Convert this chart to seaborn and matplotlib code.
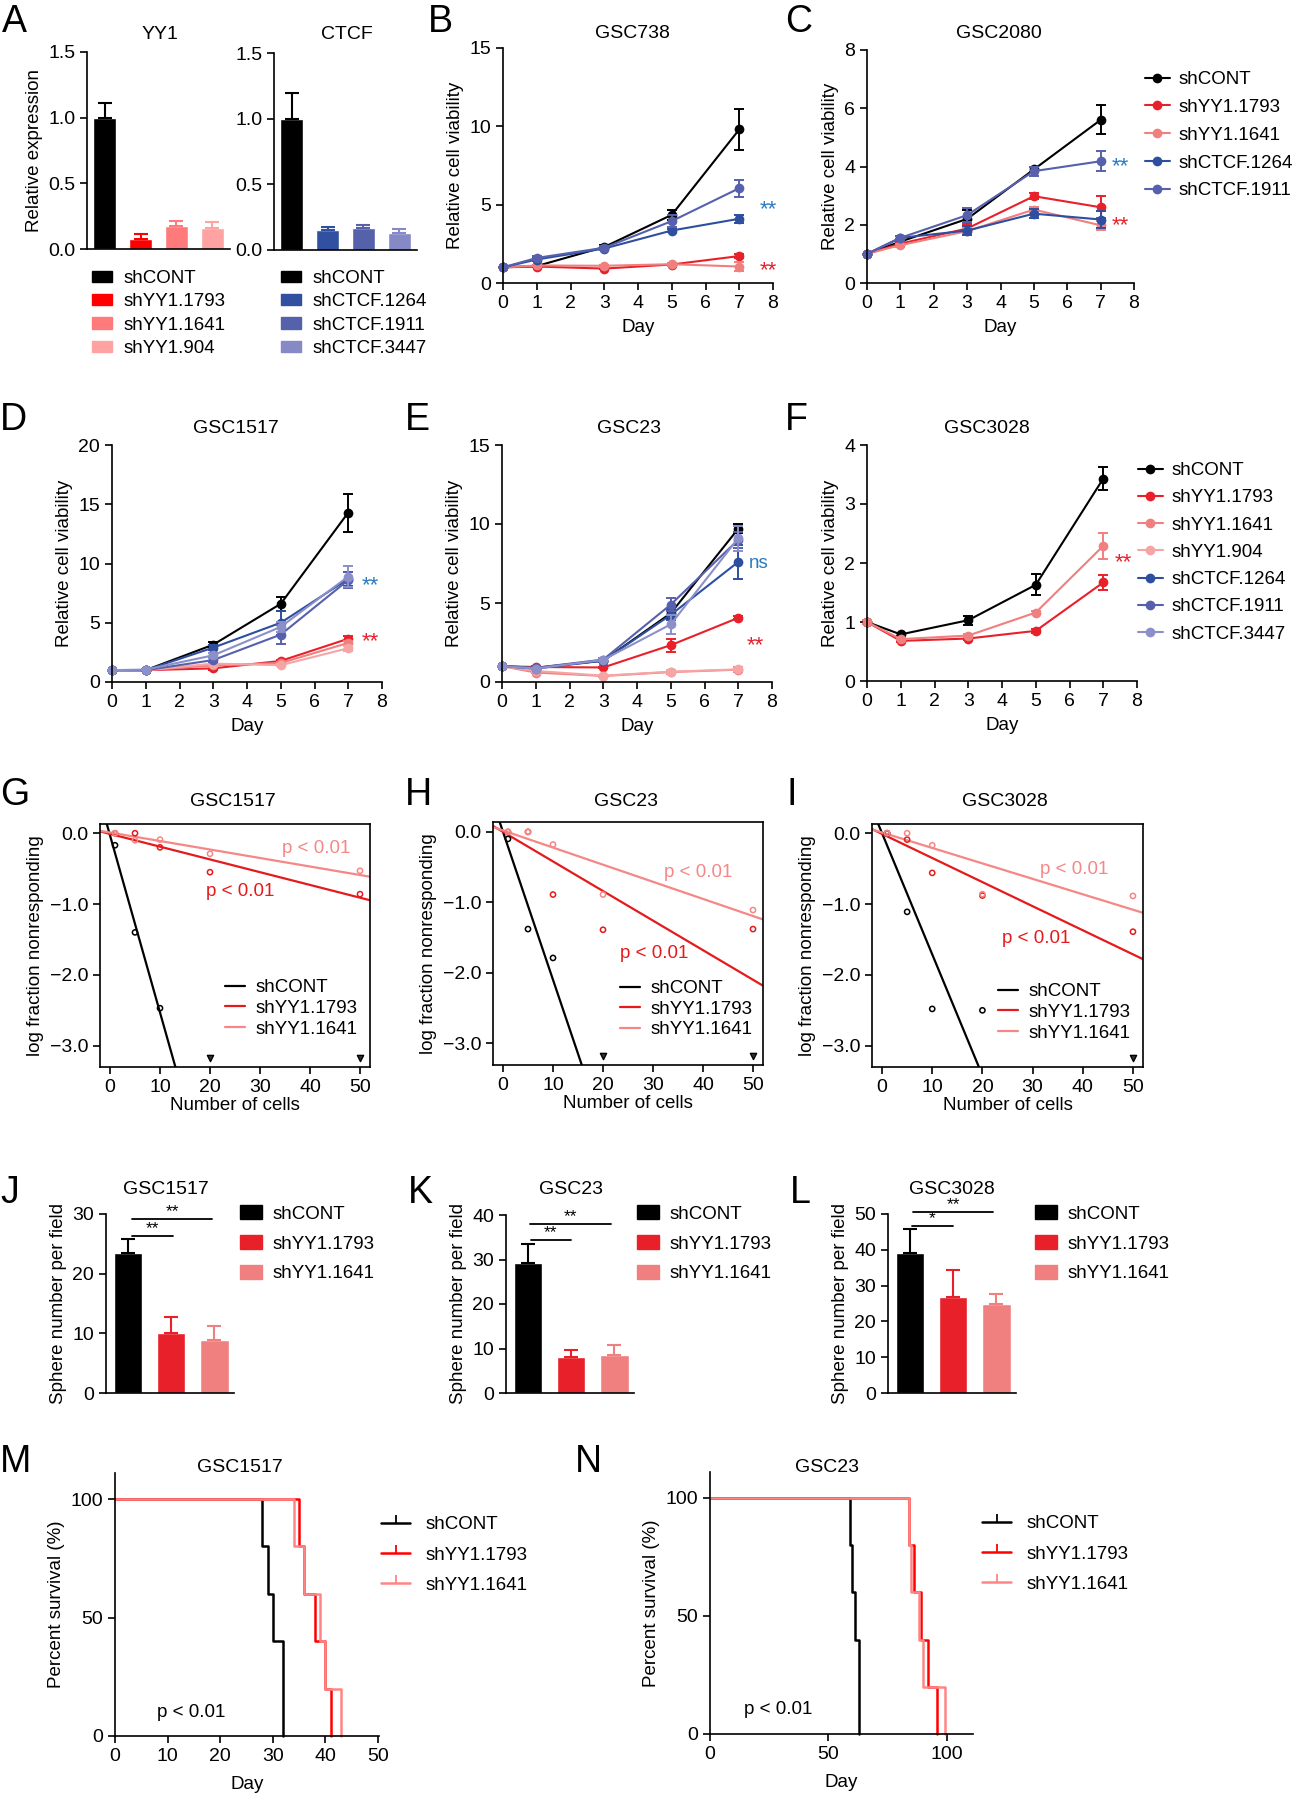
import matplotlib
matplotlib.use('Agg')
import matplotlib.pyplot as plt
import numpy as np
import seaborn as sns
from matplotlib.lines import Line2D
from matplotlib.patches import Patch

# ---------------- data ----------------
yy1_groups = ['shCONT', 'shYY1.1793', 'shYY1.1641', 'shYY1.904']
yy1_expr = [1.0, 0.077, 0.173, 0.158]
yy1_expr_err = [0.114, 0.04, 0.037, 0.048]
ctcf_groups = ['shCONT', 'shCTCF.1264', 'shCTCF.1911', 'shCTCF.3447']
ctcf_expr = [1.0, 0.151, 0.164, 0.131]
ctcf_expr_err = [0.197, 0.021, 0.028, 0.028]

days = [0, 1, 3, 5, 7]

gsc738_mean = {
    'shCONT': [1.0, 1.08, 2.3, 4.35, 9.8],
    'shYY1.1793': [1.0, 1.05, 0.92, 1.18, 1.72],
    'shYY1.1641': [1.0, 1.12, 1.1, 1.2, 1.05],
    'shCTCF.1264': [1.0, 1.5, 2.2, 3.35, 4.1],
    'shCTCF.1911': [1.0, 1.6, 2.25, 3.95, 6.05],
}
gsc738_err = {
    'shCONT': [0, 0.05, 0.15, 0.3, 1.3],
    'shYY1.1793': [0, 0.05, 0.05, 0.1, 0.1],
    'shYY1.1641': [0, 0.05, 0.05, 0.1, 0.3],
    'shCTCF.1264': [0, 0.1, 0.1, 0.1, 0.25],
    'shCTCF.1911': [0, 0.1, 0.1, 0.4, 0.55],
}

gsc2080_mean = {
    'shCONT': [1.0, 1.42, 2.2, 3.9, 5.6],
    'shYY1.1793': [1.0, 1.35, 1.87, 2.98, 2.6],
    'shYY1.1641': [1.0, 1.3, 1.78, 2.52, 1.98],
    'shCTCF.1264': [1.0, 1.55, 1.8, 2.38, 2.18],
    'shCTCF.1911': [1.0, 1.55, 2.33, 3.84, 4.18],
}
gsc2080_err = {
    'shCONT': [0, 0.05, 0.3, 0.1, 0.5],
    'shYY1.1793': [0, 0.05, 0.15, 0.1, 0.38],
    'shYY1.1641': [0, 0.05, 0.1, 0.1, 0.15],
    'shCTCF.1264': [0, 0.05, 0.15, 0.15, 0.3],
    'shCTCF.1911': [0, 0.05, 0.25, 0.15, 0.35],
}

gsc1517_mean = {
    'shCONT': [1.0, 1.0, 3.15, 6.6, 14.3],
    'shYY1.1793': [1.0, 1.0, 1.15, 1.78, 3.65],
    'shYY1.1641': [1.0, 1.0, 1.4, 1.6, 3.3],
    'shYY1.904': [1.0, 1.0, 1.55, 1.42, 2.85],
    'shCTCF.1264': [1.0, 1.0, 2.9, 5.0, 8.7],
    'shCTCF.1911': [1.0, 1.0, 1.85, 4.0, 8.6],
    'shCTCF.3447': [1.0, 1.05, 2.25, 4.65, 8.9],
}
gsc1517_err = {
    'shCONT': [0, 0.05, 0.2, 0.6, 1.6],
    'shYY1.1793': [0, 0.05, 0.1, 0.1, 0.2],
    'shYY1.1641': [0, 0.05, 0.1, 0.1, 0.2],
    'shYY1.904': [0, 0.05, 0.1, 0.1, 0.2],
    'shCTCF.1264': [0, 0.05, 0.2, 1.0, 0.6],
    'shCTCF.1911': [0, 0.05, 0.2, 0.8, 0.7],
    'shCTCF.3447': [0, 0.05, 0.2, 0.4, 0.9],
}

gsc23_mean = {
    'shCONT': [1.0, 0.9, 1.35, 4.35, 9.7],
    'shYY1.1793': [1.0, 0.95, 0.92, 2.33, 4.06],
    'shYY1.1641': [1.0, 0.6, 0.38, 0.63, 0.78],
    'shYY1.904': [1.0, 0.7, 0.4, 0.65, 0.8],
    'shCTCF.1264': [1.0, 0.85, 1.35, 4.25, 7.6],
    'shCTCF.1911': [1.0, 0.9, 1.42, 4.9, 9.0],
    'shCTCF.3447': [1.0, 0.85, 1.4, 3.65, 9.1],
}
gsc23_err = {
    'shCONT': [0, 0.05, 0.1, 0.3, 0.3],
    'shYY1.1793': [0, 0.05, 0.05, 0.4, 0.1],
    'shYY1.1641': [0, 0.05, 0.05, 0.1, 0.15],
    'shYY1.904': [0, 0.05, 0.05, 0.1, 0.1],
    'shCTCF.1264': [0, 0.05, 0.1, 0.35, 1.1],
    'shCTCF.1911': [0, 0.05, 0.1, 0.4, 0.5],
    'shCTCF.3447': [0, 0.05, 0.1, 0.6, 0.8],
}

gsc3028_mean = {
    'shCONT': [1.0, 0.79, 1.03, 1.63, 3.43],
    'shYY1.1793': [1.0, 0.68, 0.72, 0.85, 1.67],
    'shYY1.1641': [1.0, 0.71, 0.77, 1.16, 2.29],
}
gsc3028_err = {
    'shCONT': [0.02, 0.02, 0.08, 0.18, 0.2],
    'shYY1.1793': [0.03, 0.02, 0.02, 0.03, 0.13],
    'shYY1.1641': [0.03, 0.02, 0.02, 0.03, 0.22],
}

lda_groups = ['shCONT', 'shYY1.1793', 'shYY1.1641']
lda_cells = [1, 5, 10, 20, 50]
lda_floor = -3.18
g_lda = {
    'shCONT': [-0.17, -1.40, -2.47, np.nan, np.nan],
    'shYY1.1793': [0.0, 0.0, -0.20, -0.55, -0.86],
    'shYY1.1641': [0.0, -0.10, -0.09, -0.29, -0.53],
}
g_cens = [20, 50]
g_fit = {'shCONT': (-0.03, -0.25), 'shYY1.1793': (-0.01, -0.018), 'shYY1.1641': (0.01, -0.012)}
h_lda = {
    'shCONT': [-0.10, -1.38, -1.79, np.nan, np.nan],
    'shYY1.1793': [0.0, 0.0, -0.89, -1.39, -1.38],
    'shYY1.1641': [0.0, 0.0, -0.18, -0.89, -1.11],
}
h_cens = [20, 50]
h_fit = {'shCONT': (0.0, -0.21), 'shYY1.1793': (0.0, -0.042), 'shYY1.1641': (0.02, -0.0243)}
i_lda = {
    'shCONT': [0.0, -1.11, -2.48, -2.50, np.nan],
    'shYY1.1793': [0.0, -0.09, -0.56, -0.88, -1.39],
    'shYY1.1641': [0.0, 0.0, -0.17, -0.86, -0.885],
}
i_cens = [50]
i_fit = {'shCONT': (0.0, -0.171), 'shYY1.1793': (-0.01, -0.034), 'shYY1.1641': (0.01, -0.0218)}

sphere_groups = ['shCONT', 'shYY1.1793', 'shYY1.1641']
j_sphere = [23.4, 10.1, 8.9]
j_sphere_err = [2.4, 2.6, 2.4]
k_sphere = [29.2, 8.1, 8.6]
k_sphere_err = [4.2, 1.6, 2.2]
l_sphere = [39.2, 26.9, 25.0]
l_sphere_err = [6.6, 7.4, 2.7]

surv_levels = {'shCONT': [100, 80, 60, 40, 0],
               'shYY1.1793': [100, 80, 60, 40, 20, 0],
               'shYY1.1641': [100, 80, 60, 40, 20, 0]}
m_surv_days = {'shCONT': [0, 28, 29, 30, 32],
               'shYY1.1793': [0, 35, 36, 38, 40, 41],
               'shYY1.1641': [0, 34, 36, 39, 40, 43]}
n_surv_days = {'shCONT': [0, 59, 60, 61, 63],
               'shYY1.1793': [0, 84, 86, 89, 92, 96],
               'shYY1.1641': [0, 84, 85, 88, 90, 99]}

# ---------------- style ----------------
line_colors = {
    'shCONT': '#000000',
    'shYY1.1793': '#e8202a',
    'shYY1.1641': '#f07f7f',
    'shYY1.904': '#f6a5a5',
    'shCTCF.1264': '#2e4f9f',
    'shCTCF.1911': '#5660ad',
    'shCTCF.3447': '#8b8fca',
}
yy1_bar_colors = ['#000000', '#ff0000', '#ff7b7b', '#ffa2a2']
ctcf_bar_colors = ['#000000', '#3150a0', '#5661ab', '#8589c5']
sphere_colors = ['#000000', '#e8202a', '#f08080']
lda_colors = {'shCONT': '#000000', 'shYY1.1793': '#e41a1c', 'shYY1.1641': '#f58787'}
surv_colors = {'shCONT': '#000000', 'shYY1.1793': '#ff0000', 'shYY1.1641': '#ff8585'}
star_blue = '#2a7ac0'

sns.set_theme(style='ticks', rc={
    'axes.linewidth': 1.2,
    'axes.edgecolor': 'black',
    'axes.spines.top': False,
    'axes.spines.right': False,
    'xtick.major.width': 1.2,
    'ytick.major.width': 1.2,
    'xtick.major.size': 5,
    'ytick.major.size': 5,
    'xtick.color': 'black',
    'ytick.color': 'black',
    'axes.labelsize': 13.5,
    'xtick.labelsize': 14,
    'ytick.labelsize': 14,
    'legend.fontsize': 13.5,
    'text.color': 'black',
    'axes.labelcolor': 'black',
})
plt.rcParams['font.family'] = ['Liberation Sans', 'DejaVu Sans']
plt.rcParams['axes.unicode_minus'] = True

W, H = 1298, 1800
fig = plt.figure(figsize=(W / 100, H / 100), dpi=100)
fig.patch.set_facecolor('white')


def place(x0, y0, x1, y1):
    return fig.add_axes([x0 / W, 1 - y1 / H, (x1 - x0) / W, (y1 - y0) / H])


def ftext(x, y, s, **kw):
    fig.text(x / W, 1 - y / H, s, **kw)


def flegend(ax, handles, x, y, **kw):
    return ax.legend(handles=handles, loc='upper left', bbox_to_anchor=(x / W, 1 - y / H),
                     bbox_transform=fig.transFigure, frameon=False, borderpad=0,
                     borderaxespad=0, **kw)


def letter(x, y, s):
    ftext(x, y, s, fontsize=27, va='baseline', ha='left')


def title(x, y, s):
    ftext(x, y, s, fontsize=14, va='baseline', ha='center')


# ---------------- A ----------------
def expr_panel(box, groups, vals, errs, cols, ylabel):
    ax = place(*box)
    sns.barplot(x=groups, y=vals, hue=groups, palette=cols, legend=False,
                width=0.65, saturation=1, ax=ax)
    for i, (v, e, c) in enumerate(zip(vals, errs, cols)):
        ax.errorbar(i, v, yerr=[[0], [e]], fmt='none', ecolor=c,
                    elinewidth=1.5, capsize=5, capthick=1.5)
    ax.set_xlim(-0.5, 3.5)
    ax.set_ylim(0, 1.5)
    ax.set_xticks([])
    ax.set_yticks([0, 0.5, 1.0, 1.5])
    ax.yaxis.set_major_formatter('{x:.1f}')
    ax.set_ylabel(ylabel)
    return ax


ax = expr_panel((87, 52, 230, 249), yy1_groups, yy1_expr, yy1_expr_err, yy1_bar_colors,
                'Relative expression')
flegend(ax, [Patch(color=c, label=n) for n, c in zip(yy1_groups, yy1_bar_colors)], 92, 270,
        handlelength=1.07, handleheight=0.55, handletextpad=0.6, labelspacing=0.34)
ax = expr_panel((274, 53, 417, 250), ctcf_groups, ctcf_expr, ctcf_expr_err, ctcf_bar_colors, '')
flegend(ax, [Patch(color=c, label=n) for n, c in zip(ctcf_groups, ctcf_bar_colors)], 281, 270,
        handlelength=1.07, handleheight=0.55, handletextpad=0.6, labelspacing=0.34)
title(160, 39, 'YY1')
title(347, 39, 'CTCF')
letter(2, 32, 'A')


# ---------------- B-F ----------------
def growth_panel(box, means, errs, ymax, ystep):
    ax = place(*box)
    for name, vals in means.items():
        c = line_colors[name]
        ax.errorbar(days, vals, yerr=errs[name], fmt='none', ecolor=c, elinewidth=1.4,
                    capsize=3.5, capthick=1.4, clip_on=False)
        sns.lineplot(x=days, y=vals, color=c, marker='o', markersize=7, markeredgewidth=0,
                     linewidth=1.5, ax=ax, clip_on=False, label=name, legend=False)
    ax.set_xlim(0, 8)
    ax.set_ylim(0, ymax)
    ax.set_xticks(range(9))
    ax.set_yticks(np.arange(0, ymax + 0.01, ystep))
    ax.set_xlabel('Day', labelpad=5)
    ax.set_ylabel('Relative cell viability')
    return ax


def stars(ax, x, y, s, c):
    ax.text(x, y, s, color=c, fontsize=16 if s != 'ns' else 13.5, ha='left', va='center')


ax = growth_panel((503, 48, 773, 283), gsc738_mean, gsc738_err, 15, 5)
stars(ax, 7.6, 4.7, '**', star_blue)
stars(ax, 7.6, 0.8, '**', line_colors['shYY1.1793'])
title(632, 38, 'GSC738')
letter(428, 32, 'B')

ax = growth_panel((867, 50, 1134, 283), gsc2080_mean, gsc2080_err, 8, 2)
stars(ax, 7.34, 3.98, '**', star_blue)
stars(ax, 7.34, 1.98, '**', line_colors['shYY1.1793'])
h, l = ax.get_legend_handles_labels()
flegend(ax, h, 1145, 71, handlelength=1.33, handletextpad=0.48, labelspacing=0.57)
title(999, 38, 'GSC2080')
letter(785, 32, 'C')

ax = growth_panel((112, 445, 382, 682), gsc1517_mean, gsc1517_err, 20, 5)
stars(ax, 7.4, 8.1, '**', star_blue)
stars(ax, 7.4, 3.4, '**', line_colors['shYY1.1793'])
title(236, 433, 'GSC1517')
letter(0, 430, 'D')

ax = growth_panel((502, 445, 772, 682), gsc23_mean, gsc23_err, 15, 5)
stars(ax, 7.32, 7.5, 'ns', star_blue)
stars(ax, 7.26, 2.3, '**', line_colors['shYY1.1793'])
title(629, 433, 'GSC23')
letter(405, 430, 'E')

ax = growth_panel((867, 445, 1137, 681), gsc3028_mean, gsc3028_err, 4, 1)
stars(ax, 7.35, 2.0, '**', line_colors['shYY1.1793'])
f_handles = [Line2D([], [], color=line_colors[n], marker='o', markersize=7, markeredgewidth=0,
                    linewidth=1.5, label=n) for n in line_colors]
flegend(ax, f_handles, 1138, 462, handlelength=1.33, handletextpad=0.48, labelspacing=0.54)
title(987, 433, 'GSC3028')
letter(785, 430, 'F')


# ---------------- G-I ----------------
def lda_panel(box, pts, cens, fit, ylim):
    ax = place(*box)
    for s in ax.spines.values():
        s.set_visible(True)
    for name in lda_groups:
        c = lda_colors[name]
        b, m = fit[name]
        ax.axline((0, b), slope=m, color=c, linewidth=1.6)
        ax.scatter(lda_cells, pts[name], s=14, facecolors='none', edgecolors=c, linewidths=1.1,
                   zorder=3)
    ax.scatter(cens, [lda_floor] * len(cens), marker='v', s=20, facecolors='#333333',
               edgecolors='black', linewidths=1.0, zorder=3)
    ax.set_xlim(-2, 52)
    ax.set_ylim(*ylim)
    ax.set_xticks([0, 10, 20, 30, 40, 50])
    ax.set_yticks([0, -1, -2, -3])
    ax.yaxis.set_major_formatter('{x:.1f}')
    ax.set_xlabel('Number of cells', labelpad=1)
    ax.set_ylabel('log fraction nonresponding')
    return ax


def lda_legend(ax, x, y):
    hs = [Line2D([], [], color=lda_colors[n], linewidth=1.6, label=n) for n in lda_groups]
    flegend(ax, hs, x, y, handlelength=1.07, handletextpad=0.55, labelspacing=0.19)


def pval(ax, x, y, c):
    ax.text(x, y, 'p < 0.01', color=c, fontsize=13.5, ha='left', va='center')


ax = lda_panel((100, 824, 370, 1067), g_lda, g_cens, g_fit, (-3.3, 0.13))
pval(ax, 34.3, -0.21, lda_colors['shYY1.1641'])
pval(ax, 19.3, -0.82, lda_colors['shYY1.1793'])
lda_legend(ax, 225, 979)
title(233, 806, 'GSC1517')
letter(0, 805, 'G')

ax = lda_panel((493, 822, 763, 1065), h_lda, h_cens, h_fit, (-3.31, 0.14))
pval(ax, 32.1, -0.57, lda_colors['shYY1.1641'])
pval(ax, 23.5, -1.72, lda_colors['shYY1.1793'])
lda_legend(ax, 620, 980)
title(626, 806, 'GSC23')
letter(405, 805, 'H')

ax = lda_panel((872, 824, 1143, 1067), i_lda, i_cens, i_fit, (-3.3, 0.13))
pval(ax, 31.5, -0.51, lda_colors['shYY1.1641'])
pval(ax, 23.9, -1.48, lda_colors['shYY1.1793'])
lda_legend(ax, 998, 983)
title(1005, 806, 'GSC3028')
letter(787, 805, 'I')


# ---------------- J-L ----------------
def sphere_panel(box, vals, errs, ymax, sigs):
    ax = place(*box)
    sns.barplot(x=sphere_groups, y=vals, hue=sphere_groups, palette=sphere_colors, legend=False,
                width=0.65, saturation=1, ax=ax)
    for i, (v, e, c) in enumerate(zip(vals, errs, sphere_colors)):
        ax.errorbar(i, v, yerr=[[0], [e]], fmt='none', ecolor=c, elinewidth=1.5,
                    capsize=5, capthick=1.5)
    for x0, x1, y, s in sigs:
        ax.plot([x0, x1], [y, y], color='black', linewidth=1.3, clip_on=False)
        ax.text((x0 + x1) / 2, y, s, ha='center', va='bottom', fontsize=12.5)
    ax.set_xlim(-0.5, 2.45)
    ax.set_ylim(0, ymax)
    ax.set_xticks([])
    ax.set_yticks(np.arange(0, ymax + 1, 10))
    ax.set_ylabel('Sphere number per field')
    hs = [Patch(color=c, label=n) for n, c in zip(sphere_groups, sphere_colors)]
    return ax, hs


ax, hs = sphere_panel((106, 1214, 234, 1393), j_sphere, j_sphere_err, 30,
                      [(0.1, 1.05, 26.3, '**'), (0.1, 1.95, 29.1, '**')])
flegend(ax, hs, 240, 1205, handlelength=1.17, handleheight=0.8, handletextpad=0.59,
        labelspacing=0.65)
title(166, 1194, 'GSC1517')
letter(0, 1203, 'J')

ax, hs = sphere_panel((506, 1215, 634, 1393), k_sphere, k_sphere_err, 40,
                      [(0.07, 1.0, 34.4, '**'), (0.05, 1.93, 38.0, '**')])
flegend(ax, hs, 637, 1205, handlelength=1.17, handleheight=0.8, handletextpad=0.59,
        labelspacing=0.65)
title(571, 1194, 'GSC23')
letter(408, 1203, 'K')

ax, hs = sphere_panel((888, 1214, 1016, 1393), l_sphere, l_sphere_err, 50,
                      [(0.05, 1.0, 46.7, '*'), (0.07, 1.93, 50.6, '**')])
flegend(ax, hs, 1035, 1205, handlelength=1.17, handleheight=0.8, handletextpad=0.59,
        labelspacing=0.65)
title(952, 1194, 'GSC3028')
letter(790, 1203, 'L')


# ---------------- M-N ----------------
def surv_panel(box, surv_days, xmax, xticks, ptext):
    ax = place(*box)
    for name in lda_groups:
        sns.lineplot(x=surv_days[name], y=surv_levels[name], drawstyle='steps-post',
                     color=surv_colors[name], linewidth=1.8, ax=ax, clip_on=False)
    ax.set_xlim(0, xmax)
    ax.set_ylim(0, 111)
    ax.set_xticks(xticks)
    ax.set_yticks([0, 50, 100])
    ax.set_xlabel('Day', labelpad=8)
    ax.set_ylabel('Percent survival (%)')
    ax.text(ptext[0], ptext[1], 'p < 0.01', ha='center', va='center', fontsize=13.5)
    hs = [Line2D([], [], color=surv_colors[n], linewidth=1.8, marker=2, markersize=6,
                 markeredgewidth=1.3, label=n) for n in lda_groups]
    return ax, hs


ax, hs = surv_panel((115, 1473, 379, 1736), m_surv_days, 50.2, [0, 10, 20, 30, 40, 50],
                    (14.5, 10))
flegend(ax, hs, 381, 1516, handlelength=1.55, handletextpad=0.8, labelspacing=0.71)
title(240, 1472, 'GSC1517')
letter(0, 1472, 'M')

ax, hs = surv_panel((710, 1472, 973, 1734), n_surv_days, 111, [0, 50, 100], (28.6, 10.5))
flegend(ax, hs, 982, 1515, handlelength=1.55, handletextpad=0.8, labelspacing=0.71)
title(827, 1472, 'GSC23')
letter(575, 1472, 'N')

fig.savefig('out.png', dpi=100, facecolor='white')
